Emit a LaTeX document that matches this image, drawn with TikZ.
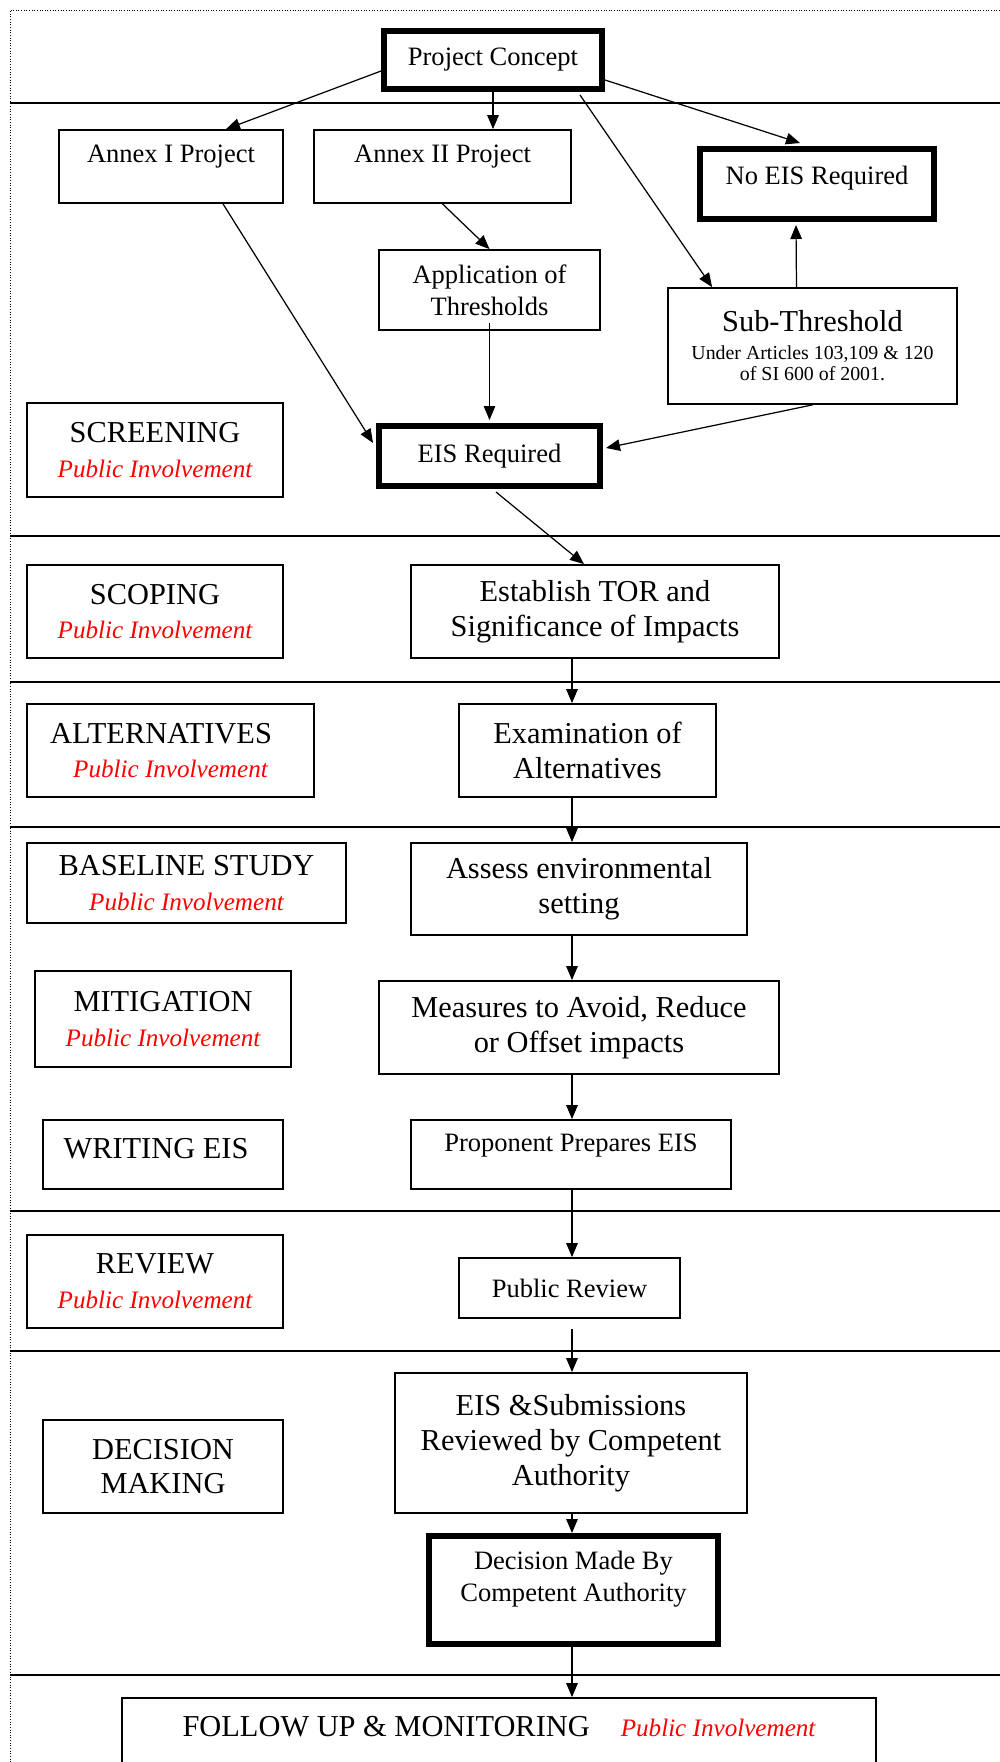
\documentclass[tikz,border=0pt]{standalone}
\usepackage{fontspec}
\setmainfont{Liberation Serif}
\usetikzlibrary{calc,positioning,arrows.meta}

\newcommand{\bigsz}{\fontsize{17.3}{19.8}\selectfont}
\newcommand{\midsz}{\fontsize{15.1}{18.1}\selectfont}
\newcommand{\smallsz}{\fontsize{11.3}{11.9}\selectfont}
\newcommand{\pubinv}{{\fontsize{14.3}{19.8}\selectfont\itshape\color{red}Public Involvement}}
\newcommand{\liftby}[2]{\raisebox{#1}[\height][\depth]{#2}}

\begin{document}
\begin{tikzpicture}[x=0.02cm, y=-0.02cm,
  box/.style={draw, rectangle, line width=1pt, align=center, inner sep=0pt},
  bigbox/.style={box, font=\bigsz},
  midbox/.style={box, font=\midsz},
  heavybox/.style={midbox, line width=3.4pt},
  wh/.style 2 args={minimum width=#1*0.02cm, minimum height=#2*0.02cm},
  arr/.style={-{Triangle[length=2.8mm,width=2.3mm]}, line width=0.7pt},
  sep/.style={line width=0.9pt}]

\fill[white] (0,0) rectangle (1000,1762);
\useasboundingbox (0,0) rectangle (1000,1762);

% frame and phase separators
\draw[densely dotted, line width=0.5pt] (10,1762) -- (10,10) -- (1000,10);
\draw[sep] (10,103) -- (1000,103) (10,536) -- (1000,536) (10,682) -- (1000,682)
  (10,827) -- (1000,827) (10,1211) -- (1000,1211) (10,1351) -- (1000,1351)
  (10,1675) -- (1000,1675);

% screening
\node[heavybox, wh={218}{58}] (concept) at (493,60) {Project Concept};
\node[midbox, wh={224}{73}] (annexI) at (171,166.5) {\liftby{0.19cm}{Annex I Project}};
\node[midbox, wh={257}{73}] (annexII) at (442.5,166.5) {\liftby{0.19cm}{Annex II Project}};
\node[heavybox, wh={234}{70}] (noeis) at (817,184) {\liftby{0.12cm}{No EIS Required}};
\node[midbox, wh={221}{80}] (appl) at (489.5,290) {Application of\\Thresholds};
\node[box, font=\smallsz, wh={289}{116}] (subthr) at (812.5,346)
  {{\bigsz Sub-Threshold}\\[4pt]Under Articles 103,109 \& 120\\of SI 600 of 2001.};
\node[heavybox, wh={221}{60}] (eisreq) at (489.5,456) {EIS Required};
\node[bigbox, wh={256}{94}] (screening) at (155,450) {SCREENING\\\pubinv};

% later phases
\node[bigbox, wh={256}{93}] (scoping) at (155,611.5) {SCOPING\\\pubinv};
\node[bigbox, wh={368}{93}] (tor) at (595,611.5) {Establish TOR and\\Significance of Impacts};
\node[bigbox, wh={287}{93}] (altern) at (170.5,750.5) {ALTERNATIVES\hspace*{0.38cm}\\\pubinv};
\node[bigbox, wh={257}{93}] (exam) at (587.5,750.5) {Examination of\\Alternatives};
\node[bigbox, wh={319}{80}] (baseline) at (186.5,883) {BASELINE STUDY\\\pubinv};
\node[bigbox, wh={336}{92}] (assess) at (579,889) {Assess environmental\\setting};
\node[bigbox, wh={256}{96}] (mitig) at (163,1019) {MITIGATION\\\pubinv};
\node[bigbox, wh={400}{93}] (measures) at (579,1027.5) {Measures to Avoid, Reduce\\or Offset impacts};
\node[bigbox, wh={240}{69}] (writing) at (163,1154.5) {\liftby{0.12cm}{WRITING EIS\hspace*{0.28cm}}};
\node[midbox, wh={320}{69}] (propon) at (571,1154.5) {\liftby{0.18cm}{Proponent Prepares EIS}};
\node[bigbox, wh={256}{93}] (review) at (155,1281.5) {REVIEW\\\pubinv};
\node[midbox, wh={221}{60}] (pubrev) at (569.5,1288) {Public Review};
\node[bigbox, wh={352}{140}] (eissub) at (571,1443) {EIS \&Submissions\\Reviewed by Competent\\Authority};
\node[bigbox, wh={240}{93}] (decmaking) at (163,1466.5) {DECISION\\MAKING};
\node[heavybox, wh={289}{108}] (decision) at (573.5,1590)
  {\liftby{0.22cm}{\begin{tabular}{@{}c@{}}Decision Made By\\Competent Authority\end{tabular}}};
\node[bigbox, wh={754}{102}] (follow) at (499,1749)
  {\liftby{0.44cm}{FOLLOW UP \& MONITORING\hspace{0.62cm}\pubinv}};

\coordinate (spine) at (572,0);

% connectors
\draw[arr] ($(concept.west)+(0,11)$) -- ($(annexI.north)+(55,0)$);
\draw[arr] (concept.south) -- (concept.south |- annexII.north);
\draw[arr] ($(concept.east)+(0,20)$) -- ($(noeis.north)+(-17,-3)$);
\draw[arr] ($(concept.south east)+(-25,3)$) -- ($(subthr.north west)+(45,0)$);
\draw[arr] ($(annexI.south)+(52,0)$) -- ($(eisreq.west)+(-3,-13)$);
\draw[arr] (annexII.south) -- (appl.north);
\draw[arr, shorten <=-0.16cm] (appl.south) -- ($(eisreq.north)+(0,-3)$);
\draw[arr] ($(subthr.north)+(-16,0)$) -- ($(noeis.south)+(-21,3)$);
\draw[arr] (subthr.south) -- ($(eisreq.east)+(3,-8)$);
\draw[arr] ($(eisreq.south)+(6.5,3)$) -- ($(tor.north)+(-11,0)$);
\draw[arr] (tor.south -| spine) -- (exam.north -| spine);
\draw[arr] (exam.south -| spine) -- (assess.north -| spine);
\draw[arr] (assess.south -| spine) -- (measures.north -| spine);
\draw[arr] (measures.south -| spine) -- (propon.north -| spine);
\draw[arr] (propon.south -| spine) -- (pubrev.north -| spine);
\draw[arr, shorten <=0.2cm] (pubrev.south -| spine) -- (eissub.north -| spine);
\draw[arr] (eissub.south -| spine) -- (decision.north -| spine);
\draw[arr] (decision.south -| spine) -- (follow.north -| spine);
\end{tikzpicture}
\end{document}
